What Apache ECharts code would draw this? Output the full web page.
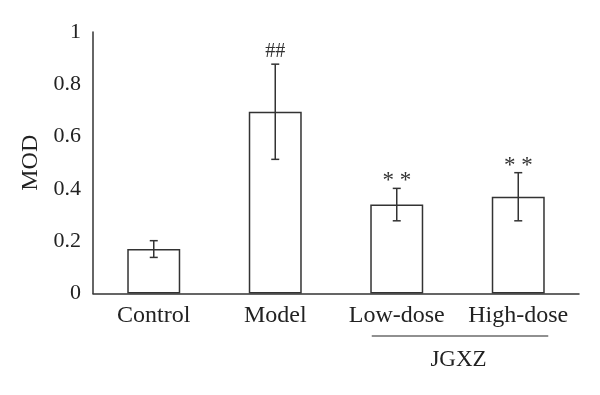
<!DOCTYPE html>
<html>
<head>
<meta charset="utf-8">
<script src="https://cdn.jsdelivr.net/npm/echarts@6/dist/echarts.min.js"></script>
<style>html,body{margin:0;padding:0;background:#fff;}#c{width:600px;height:395px;}</style>
</head>
<body>
<div id="c"></div>
<script>
var categories = ['Control', 'Model', 'Low-dose', 'High-dose'];
var means = [0.17, 0.695, 0.34, 0.37];
var errors = [0.032, 0.182, 0.062, 0.092];
var marks = ['', '##', '* *', '* *'];
var groupLabel = 'JGXZ';
var yTicks = { min: 0, max: 1, interval: 0.2 };

var FONT = 'Liberation Serif';
var INK = '#333';

var chart = echarts.init(document.getElementById('c'));
var errData = means.map(function (m, i) { return [i, m - errors[i], m + errors[i], marks[i]]; });

chart.setOption({
  animation: false,
  grid: { left: 93, right: 21, top: 32, bottom: 101.5 },
  xAxis: {
    type: 'category',
    data: categories,
    axisLine: { lineStyle: { color: INK, width: 1.5 } },
    axisTick: { show: false },
    axisLabel: { color: '#222', fontFamily: FONT, fontSize: 24, margin: 10, interval: 0, hideOverlap: false }
  },
  yAxis: {
    type: 'value',
    min: yTicks.min, max: yTicks.max, interval: yTicks.interval,
    name: 'MOD',
    nameLocation: 'middle',
    nameGap: 50,
    nameTextStyle: { color: '#222', fontFamily: FONT, fontSize: 24 },
    axisLine: { show: true, lineStyle: { color: INK, width: 1.5 } },
    axisTick: { show: false },
    splitLine: { show: false },
    axisLabel: { color: '#222', fontFamily: FONT, fontSize: 22, margin: 12 }
  },
  series: [
    {
      type: 'bar',
      data: means,
      barWidth: '43.6%',
      itemStyle: { color: '#fff', borderColor: INK, borderWidth: 1.5 }
    },
    {
      type: 'custom',
      data: errData,
      z: 10,
      renderItem: function (params, api) {
        var x = api.value(0);
        var lo = api.coord([x, api.value(1)]);
        var hi = api.coord([x, api.value(2)]);
        var cap = 4;
        var st = { stroke: INK, lineWidth: 1.5 };
        var txt = api.value(3);
        var isStar = String(txt).indexOf('*') >= 0;
        return {
          type: 'group',
          children: [
            { type: 'line', shape: { x1: lo[0], y1: lo[1], x2: hi[0], y2: hi[1] }, style: st },
            { type: 'line', shape: { x1: hi[0] - cap, y1: hi[1], x2: hi[0] + cap, y2: hi[1] }, style: st },
            { type: 'line', shape: { x1: lo[0] - cap, y1: lo[1], x2: lo[0] + cap, y2: lo[1] }, style: st },
            { type: 'text', style: { text: txt, x: hi[0], y: hi[1] - (isStar ? 7 : 12), align: 'center', verticalAlign: 'middle', fill: '#333', font: (isStar ? '23px ' : '20px ') + FONT } }
          ]
        };
      }
    }
  ]
});

var pL = chart.convertToPixel({ xAxisIndex: 0 }, 2);
var pH = chart.convertToPixel({ xAxisIndex: 0 }, 3);
chart.setOption({
  graphic: [
    { type: 'line', shape: { x1: pL - 25, y1: 336, x2: pH + 30, y2: 336 }, style: { stroke: '#222', lineWidth: 1.2 } },
    { type: 'text', style: { text: groupLabel, x: (pL + pH) / 2 + 1, y: 360, align: 'center', verticalAlign: 'middle', fill: '#222', font: '23px ' + FONT } }
  ]
});
</script>
</body>
</html>
